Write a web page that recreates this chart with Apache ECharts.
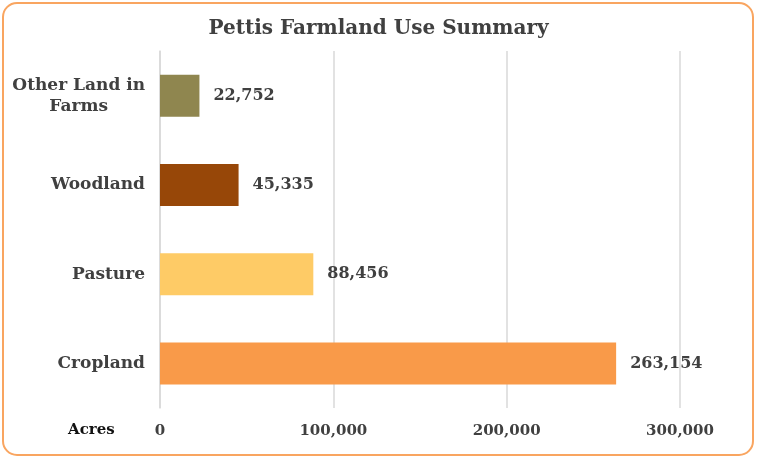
<!DOCTYPE html>
<html>
<head>
<meta charset="utf-8">
<script src="https://cdn.jsdelivr.net/npm/echarts@6/dist/echarts.min.js"></script>
<style>
html,body{margin:0;padding:0;background:#fff;}
#chart{width:757px;height:459px;}
</style>
</head>
<body>
<div id="chart"></div>
<script>
const titleText = 'Pettis Farmland Use Summary';
const categories = ['Cropland', 'Pasture', 'Woodland', 'Other Land in Farms'];
const values = [263154, 88456, 45335, 22752];
const barColors = ['#F99A49', '#FECB66', '#974708', '#8F864F'];
const xTicks = [0, 100000, 200000, 300000];
const axisName = 'Acres';

const FONT = '"DejaVu Serif", Georgia, serif';
const TXT = '#404040';
const fmt = v => v.toString().replace(/\B(?=(\d{3})+(?!\d))/g, ',');

const chart = echarts.init(document.getElementById('chart'), null, {renderer: 'canvas'});
chart.setOption({
  animation: false,
  backgroundColor: '#fff',
  title: {
    text: titleText, left: 'center', top: 14,
    textStyle: {fontFamily: FONT, fontWeight: 'bold', fontSize: 20, color: TXT}
  },
  graphic: [
    {type: 'rect', shape: {x: 3, y: 3, width: 750, height: 452, r: 14},
     style: {fill: 'none', stroke: '#F9A560', lineWidth: 2}, z: 10},
    {type: 'text', left: 68, top: 423,
     style: {text: axisName, fontFamily: FONT, fontWeight: 'bold', fontSize: 15, fill: '#111'}}
  ],
  grid: {left: 160, right: 77, top: 51, bottom: 51, containLabel: false},
  xAxis: {
    type: 'value', min: xTicks[0], max: xTicks[xTicks.length - 1],
    interval: xTicks[1] - xTicks[0],
    axisLine: {show: false}, axisTick: {show: false},
    splitLine: {lineStyle: {color: '#D9D9D9', width: 1.5}},
    axisLabel: {formatter: fmt, fontFamily: FONT, fontWeight: 'bold', fontSize: 15, color: TXT, margin: 16}
  },
  yAxis: {
    type: 'category', data: categories,
    axisLine: {lineStyle: {color: '#D9D9D9', width: 1.5}},
    axisTick: {length: 6, lineStyle: {color: '#D9D9D9', width: 1.5}},
    axisLabel: {
      fontFamily: FONT, fontWeight: 'bold', fontSize: 17, color: TXT, margin: 15,
      align: 'right',
      formatter: v => v === 'Other Land in Farms' ? '{c|Other Land in}\n{c|Farms}' : v,
      rich: {c: {align: 'center', fontFamily: FONT, fontWeight: 'bold', fontSize: 17, color: TXT, lineHeight: 21}}
    }
  },
  series: [{
    type: 'bar', barWidth: 42,
    data: values.map((v, i) => ({value: v, itemStyle: {color: barColors[i]}})),
    label: {
      show: true, position: 'right', distance: 14,
      formatter: p => fmt(p.value),
      fontFamily: FONT, fontWeight: 'bold', fontSize: 16, color: TXT
    }
  }]
});
</script>
</body>
</html>
